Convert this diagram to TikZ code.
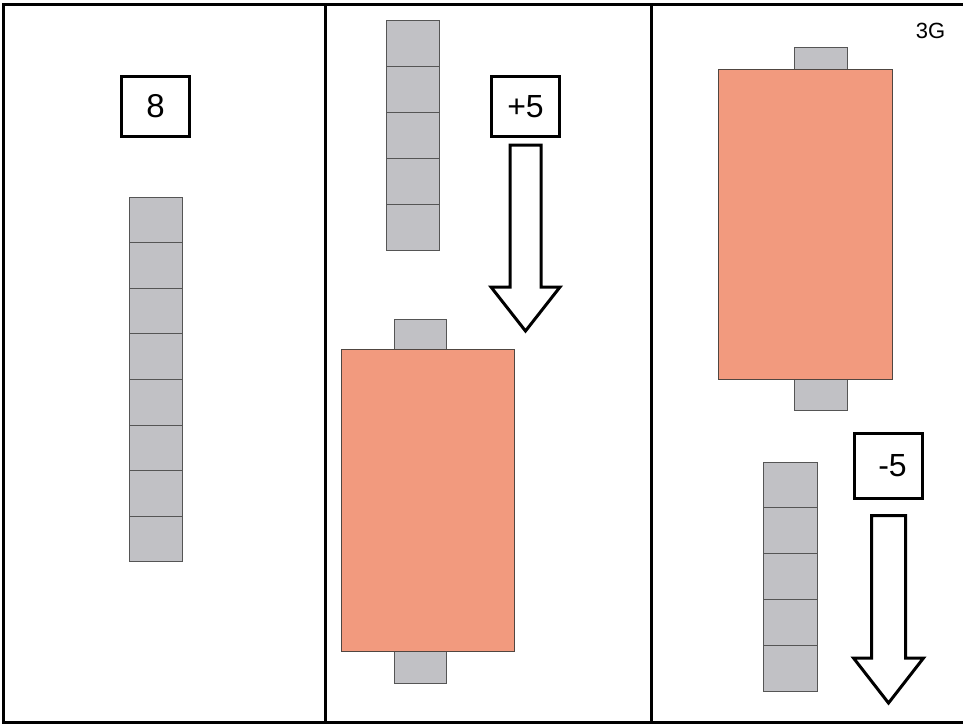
\documentclass[tikz,border=0pt]{standalone}
\usepackage{fontspec}
\setmainfont{Liberation Sans}
\definecolor{cellgray}{RGB}{193,193,197}
\definecolor{cellline}{RGB}{85,85,85}
\definecolor{salmon}{RGB}{242,154,126}
\definecolor{slabline}{RGB}{80,70,65}
\tikzset{
  numbox/.style={draw, line width=3pt, fill=white, inner sep=0pt, minimum width=68pt, minimum height=60pt},
  cell/.style={fill=cellgray, draw=cellline, line width=1pt},
  slab/.style={fill=salmon, draw=slabline, line width=0.8pt},
  blockarrow/.style={draw, line width=3pt, fill=white, line join=miter},
  frameline/.style={line width=3pt},
}
\begin{document}
\begin{tikzpicture}[x=1pt, y=-1pt]
\useasboundingbox (0,0) rectangle (963,724);
% frame and dividers
\draw[frameline] (963,4) -- (3.5,4) -- (3.5,722.5) -- (963,722.5);
\draw[frameline] (325,4) -- (325,722.5);
\draw[frameline] (651,4) -- (651,722.5);

% panel 1
\node[numbox, font=\fontsize{33}{33}\selectfont] (n8) at (155.5,106.5) {8};
\foreach \i in {0,...,7} \draw[cell] (129,197+\i*45.6) rectangle ++(53,45.6);

% panel 2
\foreach \i in {0,...,4} \draw[cell] (386,20+\i*46) rectangle ++(53,46);
\node[numbox, font=\fontsize{32}{32}\selectfont] (nplus) at (525.5,106.5) {+5};
\draw[blockarrow] (510,145) -- (541,145) -- (541,287) -- (560,287) -- (525.5,331) -- (491,287) -- (510,287) -- cycle;
\draw[cell] (394,319) rectangle (446,349);
\draw[cell] (394,651) rectangle (446,683);
\draw[slab] (341,349) rectangle (514,651);

% panel 3
\node[font=\fontsize{22}{22}\selectfont] (tag) at (930.5,31) {3G};
\draw[cell] (794,47) rectangle (847,69);
\draw[cell] (794,379) rectangle (847,410);
\draw[slab] (718,69) rectangle (892,379);
\foreach \i in {0,...,4} \draw[cell] (763,462+\i*45.8) rectangle ++(54,45.8);
\node[numbox, minimum height=65pt, font=\fontsize{32}{32}\selectfont] (nminus) at (888.5,466) {\hspace{8pt}-5};
\draw[blockarrow] (871.5,515.5) -- (905.5,515.5) -- (905.5,658) -- (923.5,658) -- (888.5,703) -- (853.5,658) -- (871.5,658) -- cycle;
\end{tikzpicture}
\end{document}
